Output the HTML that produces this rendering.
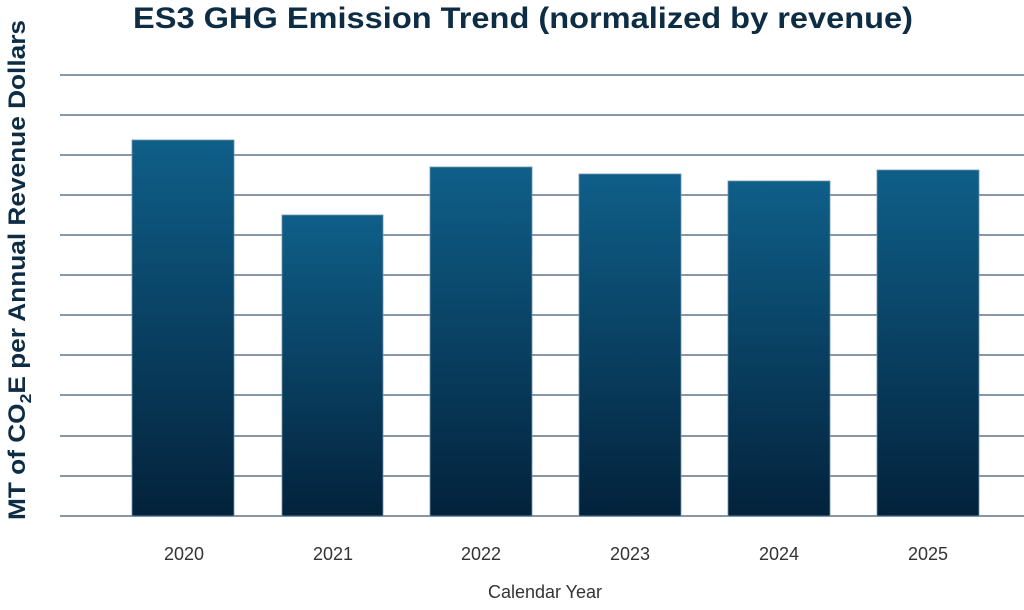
<!DOCTYPE html>
<html><head><meta charset="utf-8"><style>body{margin:0;background:#fff}</style></head><body>
<svg width="1024" height="605" xmlns="http://www.w3.org/2000/svg" font-family="Liberation Sans, sans-serif">
<defs><linearGradient id="g" x1="0" y1="0" x2="0" y2="1"><stop offset="0" stop-color="#0f5f89"/><stop offset="1" stop-color="#03223b"/></linearGradient></defs>
<text x="523" y="28" text-anchor="middle" font-size="30" font-weight="bold" fill="#0d2d45" textLength="780" lengthAdjust="spacingAndGlyphs">ES3 GHG Emission Trend (normalized by revenue)</text>
<g stroke="#8797a5" stroke-width="2">
<line x1="60" x2="1024" y1="75" y2="75"/><line x1="60" x2="1024" y1="115" y2="115"/><line x1="60" x2="1024" y1="155" y2="155"/><line x1="60" x2="1024" y1="195" y2="195"/><line x1="60" x2="1024" y1="235" y2="235"/><line x1="60" x2="1024" y1="275" y2="275"/><line x1="60" x2="1024" y1="315" y2="315"/><line x1="60" x2="1024" y1="355" y2="355"/><line x1="60" x2="1024" y1="395" y2="395"/><line x1="60" x2="1024" y1="436" y2="436"/><line x1="60" x2="1024" y1="476" y2="476"/><line x1="60" x2="1024" y1="516" y2="516"/>
</g>
<g fill="url(#g)" stroke="#6d93ad" stroke-width="0.8">
<rect x="132" y="140" width="102" height="376"/>
<rect x="282" y="215" width="101" height="301"/>
<rect x="430" y="167" width="102" height="349"/>
<rect x="579" y="174" width="102" height="342"/>
<rect x="728" y="181" width="102" height="335"/>
<rect x="877" y="170" width="102" height="346"/>
</g>
<g font-size="18" fill="#333" text-anchor="middle">
<text x="184" y="560">2020</text><text x="333" y="560">2021</text><text x="481" y="560">2022</text><text x="630" y="560">2023</text><text x="779" y="560">2024</text><text x="928" y="560">2025</text>
<text x="545" y="598" font-size="18">Calendar Year</text>
</g>
<text transform="translate(25,270) rotate(-90)" text-anchor="middle" font-size="24" font-weight="bold" fill="#0d2d45" textLength="500" lengthAdjust="spacingAndGlyphs">MT of CO<tspan font-size="16" dy="6">2</tspan><tspan dy="-6">E per Annual Revenue Dollars</tspan></text>
</svg>
</body></html>
